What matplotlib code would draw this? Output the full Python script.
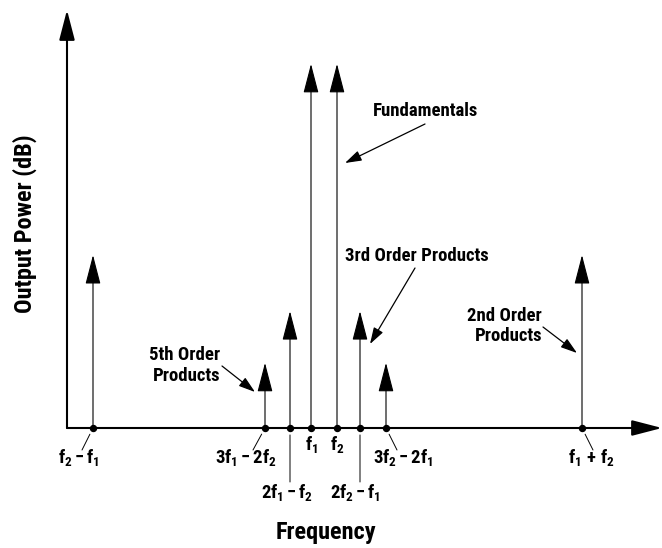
import matplotlib
matplotlib.use("Agg")
import matplotlib.pyplot as plt

plt.rcParams['font.family'] = ['Roboto Condensed', 'DejaVu Sans']
plt.rcParams['mathtext.fontset'] = 'custom'
plt.rcParams['mathtext.rm'] = 'Roboto Condensed:bold'
plt.rcParams['mathtext.it'] = 'Roboto Condensed:bold'
plt.rcParams['mathtext.bf'] = 'Roboto Condensed:bold'
plt.rcParams['mathtext.sf'] = 'Roboto Condensed:bold'

# spectral lines (schematic frequency units, relative power)
labels = [r'$\mathrm{f_2 - f_1}$', r'$\mathrm{3f_1 - 2f_2}$', r'$\mathrm{2f_1 - f_2}$',
          r'$\mathrm{f_1}$', r'$\mathrm{f_2}$', r'$\mathrm{2f_2 - f_1}$',
          r'$\mathrm{3f_2 - 2f_1}$', r'$\mathrm{f_1\,+\,f_2}$']
freq = [0.26, 1.98, 2.23, 2.44, 2.70, 2.93, 3.19, 5.15]
power = [47.5, 17.9, 32.1, 100, 100, 32.1, 17.9, 47.5]

# label placement (pixels from the dot): text centre/baseline, leader line end
label_off = [(-14, -35), (-19, -35), (-3, -70), (0, -22), (0, -22), (-5, -70), (17, -35), (10, -35)]
leader_end = [(-11, -22), (-12, -22), (0, -54), None, None, (0, -54), (11, -22), (11, -22)]

xmax, ymax = 5.95, 114.8

fig = plt.figure(figsize=(6.62, 5.48), dpi=100)
ax = fig.add_axes([67 / 662, 120 / 548, 595 / 662, 418 / 548])
ax.set_xlim(0, xmax)
ax.set_ylim(0, ymax)
ax.axis('off')

big_head = '-|>,head_length=18.5,head_width=4.8'

# axes with arrow heads
for end in [(xmax, 0), (0, ymax)]:
    ax.annotate('', xy=end, xytext=(0, 0), annotation_clip=False,
                arrowprops=dict(arrowstyle=big_head, mutation_scale=1, lw=1.5,
                                color='black', shrinkA=0, shrinkB=0))

# spectral lines
for f, p in zip(freq, power):
    ax.annotate('', xy=(f, p), xytext=(f, 0), annotation_clip=False,
                arrowprops=dict(arrowstyle=big_head, mutation_scale=1, lw=0.8,
                                color='black', shrinkA=0, shrinkB=0))
ax.plot(freq, [0] * len(freq), 'o', color='black', ms=4.3, zorder=5, clip_on=False)

# frequency labels with leader lines
for f, lab, off, lead in zip(freq, labels, label_off, leader_end):
    ax.annotate(lab, xy=(f, 0), xytext=off, textcoords='offset pixels',
                ha='center', va='baseline', fontsize=13.5, annotation_clip=False)
    if lead is not None:
        ax.annotate('', xy=(f, 0), xytext=lead, textcoords='offset pixels',
                    annotation_clip=False,
                    arrowprops=dict(arrowstyle='-', lw=0.7, color='black',
                                    shrinkA=0, shrinkB=5))

# callouts (figure pixels, origin bottom-left)
H = 548
small_head = '-|>,head_length=10,head_width=3.2'
callouts = [('Fundamentals', (373, 116), 'left', (425, 124), (345, 163)),
            ('3rd Order Products', (345, 261), 'left', (415, 268), (370, 344))]
for txt, pos, ha, start, tip in callouts:
    fig.text(pos[0] / 662, (H - pos[1]) / H, txt, ha=ha, va='baseline',
             fontsize=13.5, fontweight='bold')
    ax.annotate('', xy=(tip[0], H - tip[1]), xycoords='figure pixels',
                xytext=(start[0], H - start[1]), textcoords='figure pixels',
                arrowprops=dict(arrowstyle=small_head, mutation_scale=1, lw=0.9,
                                color='black', shrinkA=0, shrinkB=0))

two_line = [(('2nd Order', 'Products'), 542, (321, 341), (543, 327), (577, 353)),
            (('5th Order', 'Products'), 220, (360, 381), (222, 366), (255, 392))]
for lines, right, bases, start, tip in two_line:
    for line, b in zip(lines, bases):
        fig.text(right / 662, (H - b) / H, line, ha='right', va='baseline',
                 fontsize=13.5, fontweight='bold')
    ax.annotate('', xy=(tip[0], H - tip[1]), xycoords='figure pixels',
                xytext=(start[0], H - start[1]), textcoords='figure pixels',
                arrowprops=dict(arrowstyle=small_head, mutation_scale=1, lw=0.9,
                                color='black', shrinkA=0, shrinkB=0))

fig.text(326 / 662, (H - 539) / H, 'Frequency', ha='center', va='baseline',
         fontsize=17.5, fontweight='bold')
fig.text(25 / 662, (H - 224) / H, 'Output Power (dB)', ha='center', va='center',
         rotation=90, fontsize=17.5, fontweight='bold')

fig.savefig('out.png', dpi=100)
